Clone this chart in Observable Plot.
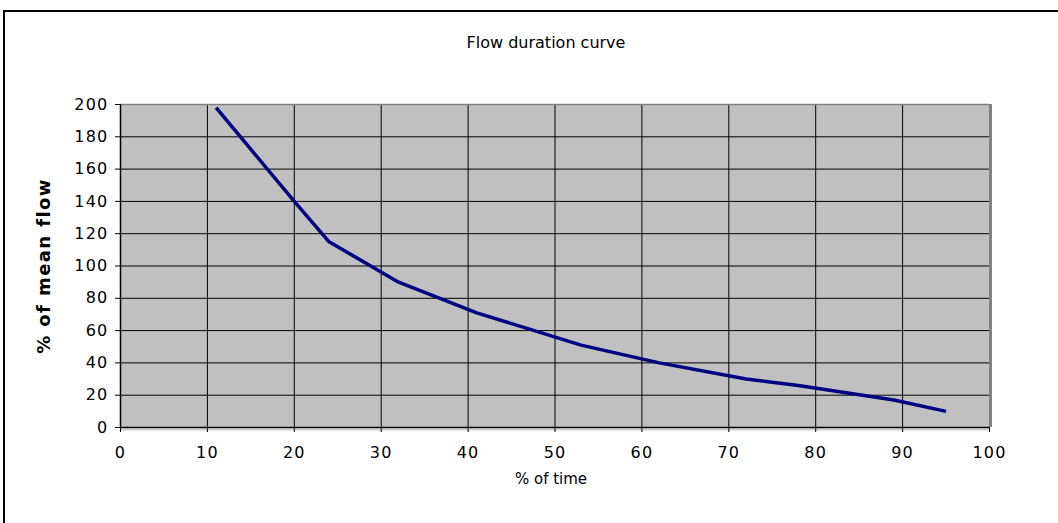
<!DOCTYPE html>
<html>
<head>
<meta charset="utf-8">
<script src="https://cdn.jsdelivr.net/npm/d3@7"></script>
<script src="https://cdn.jsdelivr.net/npm/@observablehq/plot@0.6"></script>
<style>
  html, body { margin: 0; padding: 0; background: #fff; overflow: hidden; }
  #wrap { position: relative; width: 1058px; height: 523px; }
  #frame { position: absolute; left: 3px; top: 10px; width: 1100px; height: 600px; border: 2px solid #000; box-sizing: border-box; pointer-events: none; }
  #chart { position: absolute; left: 0; top: 0; }
</style>
</head>
<body>
<div id="wrap"><div id="chart"></div><div id="frame"></div></div>
<script>
// Data
const timePct = [11, 20, 24, 32, 41, 53, 62, 72, 78, 89, 95];
const meanFlowPct = [198, 140, 115, 90, 71, 51, 40, 30, 26, 17, 10];
const xTicks = [0, 10, 20, 30, 40, 50, 60, 70, 80, 90, 100];
const yTicks = [0, 20, 40, 60, 80, 100, 120, 140, 160, 180, 200];
const title = "Flow duration curve";
const xLabel = "% of time";
const yLabel = "% of mean flow";

const data = timePct.map((t, i) => ({t, v: meanFlowPct[i]}));
const font = "DejaVu Sans, Verdana, sans-serif";

const chart = Plot.plot({
  width: 1058,
  height: 523,
  marginLeft: 120,
  marginRight: 69,
  marginTop: 104,
  marginBottom: 96,
  style: {fontFamily: font, fontSize: "16px", color: "#000", background: "transparent"},
  x: {domain: [0, 100], ticks: xTicks},
  y: {domain: [0, 200], ticks: yTicks},
  marks: [
    Plot.frame({fill: "#c0c0c0", stroke: null}),
    Plot.gridX(xTicks, {stroke: "#000", strokeOpacity: 1, strokeWidth: 1}),
    Plot.gridY(yTicks, {stroke: "#000", strokeOpacity: 1, strokeWidth: 1}),
    Plot.ruleY([200], {stroke: "#808080", strokeWidth: 1.5}),
    Plot.ruleX([100], {stroke: "#808080", strokeWidth: 3, dx: 1}),
    Plot.ruleY([0], {stroke: "#d0d0d0", strokeWidth: 2, dy: 2}),
    Plot.ruleY([0], {stroke: "#000", strokeWidth: 1.5}),
    Plot.ruleX([0], {stroke: "#000", strokeWidth: 1.5}),
    Plot.axisX({ticks: xTicks, tickSize: 5, tickPadding: 14, fontSize: 16, label: null, tickFormat: d => String(d)}),
    Plot.axisY({ticks: yTicks, tickSize: 5, tickPadding: 7, fontSize: 16, label: null, tickFormat: d => String(d)}),
    Plot.line(data, {x: "t", y: "v", stroke: "#000080", strokeWidth: 3.5, strokeLinejoin: "miter", strokeLinecap: "butt"}),
    Plot.text([title], {frameAnchor: "top", lineAnchor: "middle", dy: -62, dx: -9, fontSize: 16, fill: "#000"}),
    Plot.text([xLabel], {frameAnchor: "bottom", lineAnchor: "middle", dy: 52, dx: -4, fontSize: 15, fill: "#000"}),
    Plot.text([yLabel], {frameAnchor: "left", textAnchor: "middle", lineAnchor: "middle", dx: -76, rotate: -90, fontSize: 18, fontWeight: "bold", fill: "#000", fontFamily: "DejaVu Sans, sans-serif"})
  ]
});
document.getElementById("chart").appendChild(chart);
const svg = d3.select(chart);
svg.selectAll("text").filter(function () { return this.textContent === yLabel; })
  .style("letter-spacing", "1.4px");
svg.selectAll('g[aria-label="x-axis tick label"] text, g[aria-label="y-axis tick label"] text')
  .style("letter-spacing", "1.2px");
</script>
</body>
</html>
